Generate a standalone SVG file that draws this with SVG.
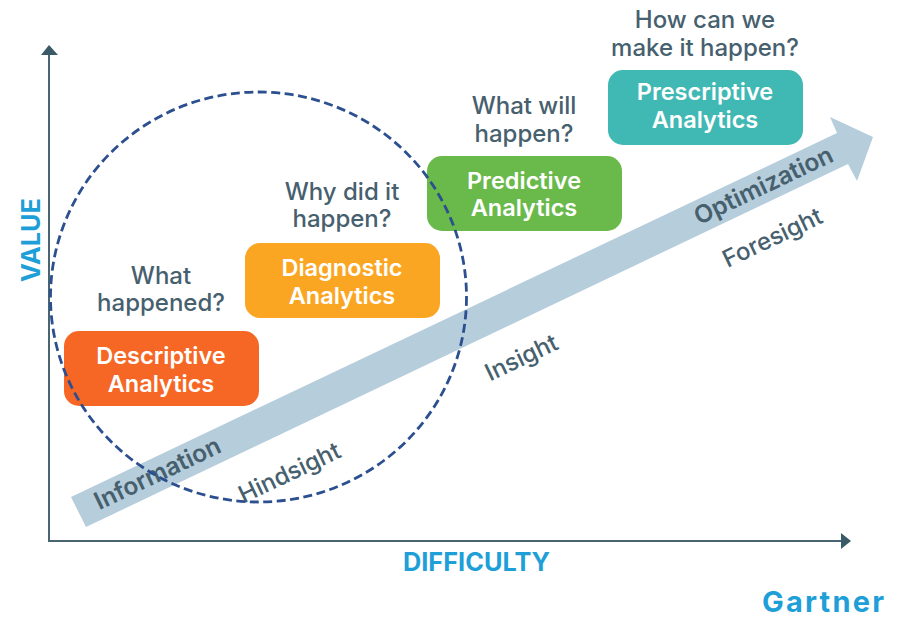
<svg xmlns="http://www.w3.org/2000/svg" width="897" height="618" viewBox="0 0 897 618">
<style>
text{font-family:"Inter","Open Sans",sans-serif}
.q{font-size:24px;font-weight:500;fill:#46606e;text-anchor:middle}
.b{font-size:23.500px;font-weight:600;fill:#fff;text-anchor:middle}
.a{font-size:25.300px;font-weight:700;fill:#1f9fd8}
.r{font-size:24px;font-weight:500;fill:#46606e;text-anchor:middle}
.rb{font-size:24.500px;font-weight:600;fill:#46606e;text-anchor:middle}
</style>
<rect width="897" height="618" fill="#fff"/>
<g id="connectors">
<polygon points="71,497 86,527 848,164 857,181 873,137 830,117 837,133" fill="#b6cddc"/>
<path d="M49 52V541H843" fill="none" stroke="#4a6572" stroke-width="2"/>
<polygon points="41,55 49,45 58,55" fill="#3a5a68"/>
<polygon points="841,533 851,541 841,549" fill="#3a5a68"/>
</g>
<g id="descriptive"><rect x="64" y="331" width="195" height="75" rx="15" fill="#f66725"/><text class="b" x="161" y="364">Descriptive</text><text class="b" x="161" y="392">Analytics</text></g>
<g id="diagnostic"><rect x="245" y="243" width="195" height="75" rx="15" fill="#fba622"/><text class="b" x="342" y="276">Diagnostic</text><text class="b" x="342" y="304">Analytics</text></g>
<g id="predictive"><rect x="427" y="156" width="195" height="75" rx="15" fill="#6ab94b"/><text class="b" x="524" y="189">Predictive</text><text class="b" x="524" y="216">Analytics</text></g>
<g id="prescriptive"><rect x="608" y="70" width="195" height="75" rx="15" fill="#40b8b3"/><text class="b" x="705" y="100">Prescriptive</text><text class="b" x="705" y="128">Analytics</text></g>
<g id="questions">
<text class="q" x="161" y="284">What</text><text class="q" x="161" y="311">happened?</text>
<text class="q" x="342" y="200">Why did it</text><text class="q" x="342" y="227">happen?</text>
<text class="q" x="524" y="114">What will</text><text class="q" x="524" y="142">happen?</text>
<text class="q" x="705" y="28">How can we</text><text class="q" x="705" y="56">make it happen?</text>
</g>
<g id="labels">
<text class="rb" transform="translate(161 481) rotate(-25.400)">Information</text>
<text class="r" transform="translate(293 480) rotate(-25.400)">Hindsight</text>
<text class="r" transform="translate(525 365) rotate(-25.400)">Insight</text>
<text class="rb" transform="translate(767 193) rotate(-25.400)">Optimization</text>
<text class="r" transform="translate(776 245) rotate(-25.400)">Foresight</text>
<text class="a" transform="translate(39.500 282) rotate(-90)">VALUE</text>
<text class="a" x="403" y="571">DIFFICULTY</text>
<text x="762" y="611.500" textLength="122" style="font-size:29px;font-weight:700;fill:#1f9fd8">Gartner</text>
</g>
<g id="scope-circle">
<ellipse cx="258.500" cy="297" rx="208" ry="205" fill="none" stroke="#2c4f8f" stroke-width="2.800" stroke-dasharray="9 4.500"/>
</g>
</svg>
